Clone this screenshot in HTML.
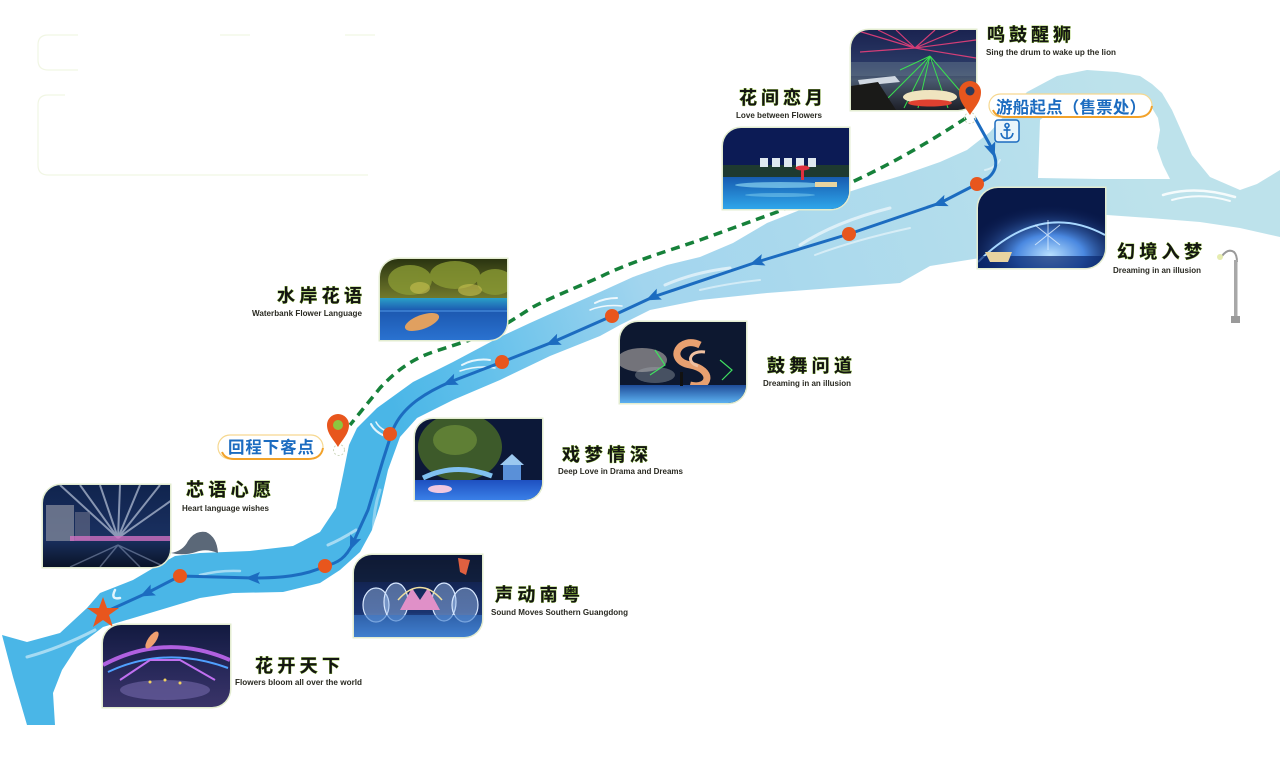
<!DOCTYPE html>
<html><head><meta charset="utf-8"><style>
html,body{margin:0;padding:0;background:#fff;}
svg{display:block;}
.tt{font-family:"Liberation Sans","Noto Sans CJK SC",sans-serif;font-weight:bold;font-size:18px;fill:#141414;stroke:#8fc23a;stroke-width:0.7;paint-order:stroke;}
.st{font-family:"Liberation Sans","Noto Sans CJK SC",sans-serif;font-weight:bold;font-size:8.5px;fill:#2a2a22;}
.pl{font-family:"Liberation Sans","Noto Sans CJK SC",sans-serif;font-weight:bold;font-size:16.5px;fill:#1c6cc0;}
.pb{fill:none;stroke:#e3ecd0;stroke-width:3;}
</style></head><body>
<svg width="1280" height="763" viewBox="0 0 1280 763" xmlns="http://www.w3.org/2000/svg">
<defs>
<linearGradient id="rv" gradientUnits="userSpaceOnUse" x1="400" y1="430" x2="1150" y2="180">
<stop offset="0" stop-color="#4ab6e7"/><stop offset="0.12" stop-color="#62c0eb"/><stop offset="0.35" stop-color="#a2d5ee"/><stop offset="1" stop-color="#bde2eb"/>
</linearGradient>
<linearGradient id="p1" x1="0" y1="0" x2="0" y2="1"><stop offset="0" stop-color="#1a2350"/><stop offset="0.45" stop-color="#2b3a66"/><stop offset="0.62" stop-color="#4a5a70"/><stop offset="1" stop-color="#1e2028"/></linearGradient>
<linearGradient id="w2" x1="0" y1="0" x2="0" y2="1"><stop offset="0" stop-color="#175cb0"/><stop offset="1" stop-color="#2fa6ea"/></linearGradient>
<radialGradient id="gl3" cx="0.5" cy="0.6" r="0.5"><stop offset="0" stop-color="#b8e0ff"/><stop offset="0.4" stop-color="#4a88e0"/><stop offset="1" stop-color="#0a1a50" stop-opacity="0"/></radialGradient>
<linearGradient id="t4" x1="0" y1="0" x2="0" y2="1"><stop offset="0" stop-color="#2a3410"/><stop offset="1" stop-color="#7c8430"/></linearGradient>
<linearGradient id="w4" x1="0" y1="0" x2="0" y2="1"><stop offset="0" stop-color="#2aa0c8"/><stop offset="0.3" stop-color="#1c58b0"/><stop offset="1" stop-color="#2a72d0"/></linearGradient>
<linearGradient id="w5" x1="0" y1="0" x2="0" y2="1"><stop offset="0" stop-color="#1f4c98"/><stop offset="1" stop-color="#5cb0f0"/></linearGradient>
<linearGradient id="w6" x1="0" y1="0" x2="0" y2="1"><stop offset="0" stop-color="#1e50c0"/><stop offset="1" stop-color="#3a80e8"/></linearGradient>
<linearGradient id="p7" x1="0" y1="0" x2="0" y2="1"><stop offset="0" stop-color="#10244e"/><stop offset="0.65" stop-color="#1a3060"/><stop offset="1" stop-color="#0a1428"/></linearGradient>
<linearGradient id="p8" x1="0" y1="0" x2="0" y2="1"><stop offset="0" stop-color="#0c1638"/><stop offset="0.7" stop-color="#1a3470"/><stop offset="1" stop-color="#4a8ad8"/></linearGradient>
<linearGradient id="p9" x1="0" y1="0" x2="0" y2="1"><stop offset="0" stop-color="#121a40"/><stop offset="0.6" stop-color="#2a2a5c"/><stop offset="1" stop-color="#3a3468"/></linearGradient>
<clipPath id="c1"><path d="M869,30 H976 V92 A18,18 0 0 1 958,110 H851 V48 A18,18 0 0 1 869,30 Z"/></clipPath>
<clipPath id="c2"><path d="M741,128 H849 V191 A18,18 0 0 1 831,209 H723 V146 A18,18 0 0 1 741,128 Z"/></clipPath>
<clipPath id="c3"><path d="M998,188 H1105 V248 A20,20 0 0 1 1085,268 H978 V208 A20,20 0 0 1 998,188 Z"/></clipPath>
<clipPath id="c4"><path d="M398,259 H507 V322 A18,18 0 0 1 489,340 H380 V277 A18,18 0 0 1 398,259 Z"/></clipPath>
<clipPath id="c5"><path d="M638,322 H746 V385 A18,18 0 0 1 728,403 H620 V340 A18,18 0 0 1 638,322 Z"/></clipPath>
<clipPath id="c6"><path d="M433,419 H542 V482 A18,18 0 0 1 524,500 H415 V437 A18,18 0 0 1 433,419 Z"/></clipPath>
<clipPath id="c7"><path d="M61,485 H170 V549 A18,18 0 0 1 152,567 H43 V503 A18,18 0 0 1 61,485 Z"/></clipPath>
<clipPath id="c8"><path d="M372,555 H482 V619 A18,18 0 0 1 464,637 H354 V573 A18,18 0 0 1 372,555 Z"/></clipPath>
<clipPath id="c9"><path d="M121,625 H230 V689 A18,18 0 0 1 212,707 H103 V643 A18,18 0 0 1 121,625 Z"/></clipPath>
</defs>

<!-- faint boxes top-left -->
<g fill="none" stroke="#f1f6e4" stroke-width="1.2">
<path d="M78,35 H48 Q38,35 38,45 V60 Q38,70 48,70 H78"/>
<path d="M220,35 H250"/><path d="M345,35 H375"/>
<path d="M65,95 H48 Q38,95 38,105 V165 Q38,175 48,175 H368"/>
</g>

<!-- river -->
<path fill="url(#rv)" d="M2,635 L27,642 L60,633 L87,608 L100,593 L133,580 L150,570 L175,556 L200,553 L250,551 L293,546 L320,532 L336,508 L343,475 L349,445 L357,428 L377,408 L413,382 L453,362 L500,337 L530,323 L550,314 L575,303 L600,292 L633,277 L667,265 L700,257 L733,243 L767,223 L800,210 L833,197 L867,186 L900,176 L940,162 L967,150 L990,132 L1005,115 L1027,92 L1057,76 L1087,70 L1117,72 L1140,76 L1152,84 L1162,93 L1172,110 L1180,128 L1192,155 L1210,177 L1240,190 L1257,184 L1280,170 L1280,237 L1240,228 L1200,222 L1150,218 L1107,215 L1080,217 L1040,232 L1000,252 L980,258 L930,266 L900,283 L833,288 L767,293 L700,300 L650,310 L620,325 L600,336 L550,356 L500,380 L453,400 L417,418 L400,437 L388,470 L380,505 L372,530 L360,552 L340,570 L320,583 L283,592 L233,593 L200,598 L150,613 L103,627 L77,647 L62,670 L53,693 L55,725 L27,725 L13,677 Z"/>
<!-- island -->
<path fill="#fff" d="M1040,120 L1050,112 L1152,108 L1158,118 L1160,130 L1157,148 L1163,165 L1170,179 L1100,179 L1038,178 Z"/>

<!-- white waves -->
<g fill="none" stroke="#fff" stroke-linecap="round" opacity="0.85">
<path d="M1163,195 Q1195,185 1235,197" stroke-width="2.5"/>
<path d="M1172,200 Q1200,192 1230,201" stroke-width="2"/>
<path d="M800,245 Q835,222 890,208" stroke-width="3" opacity="0.7"/>
<path d="M815,255 Q855,240 910,228" stroke-width="2" opacity="0.6"/>
<path d="M665,285 Q695,272 730,268" stroke-width="3" opacity="0.7"/>
<path d="M700,290 Q730,283 760,280" stroke-width="2" opacity="0.6"/>
<path d="M595,303 Q605,298 617,298" stroke-width="2"/>
<path d="M590,310 Q605,304 622,306" stroke-width="1.5"/>
<path d="M462,365 Q475,358 490,360" stroke-width="2"/>
<path d="M460,371 Q478,365 495,368" stroke-width="1.5"/>
<path d="M371,424 Q375,432 385,436" stroke-width="2"/>
<path d="M376,422 Q380,430 392,433" stroke-width="1.5"/>
<path d="M328,545 Q340,540 356,530" stroke-width="3" opacity="0.6"/>
<path d="M200,575 Q220,570 240,571" stroke-width="2.5" opacity="0.6"/>
<path d="M27,657 Q60,648 95,630" stroke-width="3" opacity="0.6"/>
<path d="M115,590 Q110,600 120,598" stroke-width="2.5"/>
<path d="M985,170 Q995,168 1000,160" stroke-width="2" opacity="0.6"/>
<path d="M375,555 Q370,520 380,490" stroke-width="3" opacity="0.45"/>
</g>

<!-- green dashed return line -->
<path d="M966,118 C940,135 900,160 850,183 L777,212 L733,228 L700,240 C665,252 630,262 600,277 C575,288 550,298 533,307 C515,318 500,330 470,340 L433,352 C410,360 395,372 380,388 L350,425" fill="none" stroke="#16813a" stroke-width="3.5" stroke-dasharray="9 6"/>

<!-- route line -->
<path d="M975,118 L990,145 C996,157 1000,168 988,178 L977,184 L940,203 L849,234 L757,262 L653,297 L612,316 L553,342 L502,362 L450,382 C420,395 400,410 392,432 L383,460 L368,510 L353,543 C346,558 338,563 325,566 C305,576 280,578 253,578 L180,576 L147,593 L103,613" fill="none" stroke="#1c6cc0" stroke-width="3" stroke-linejoin="round"/>
<g fill="#1c6cc0">
<path d="M8,0 L-7,-6 L-4,0 L-7,6 Z" transform="translate(992,150) rotate(70)"/>
<path d="M8,0 L-7,-6 L-4,0 L-7,6 Z" transform="translate(940,203) rotate(159)"/>
<path d="M8,0 L-7,-6 L-4,0 L-7,6 Z" transform="translate(757,262) rotate(162)"/>
<path d="M8,0 L-7,-6 L-4,0 L-7,6 Z" transform="translate(653,297) rotate(155)"/>
<path d="M8,0 L-7,-6 L-4,0 L-7,6 Z" transform="translate(553,342) rotate(157)"/>
<path d="M8,0 L-7,-6 L-4,0 L-7,6 Z" transform="translate(450,382) rotate(157)"/>
<path d="M8,0 L-7,-6 L-4,0 L-7,6 Z" transform="translate(353,543) rotate(113)"/>
<path d="M8,0 L-7,-6 L-4,0 L-7,6 Z" transform="translate(253,578) rotate(180)"/>
<path d="M8,0 L-7,-6 L-4,0 L-7,6 Z" transform="translate(147,593) rotate(154)"/>
</g>
<g fill="#e8561d">
<circle cx="977" cy="184" r="7"/><circle cx="849" cy="234" r="7"/><circle cx="612" cy="316" r="7"/>
<circle cx="502" cy="362" r="7"/><circle cx="390" cy="434" r="7"/><circle cx="325" cy="566" r="7"/><circle cx="180" cy="576" r="7"/>
<polygon points="103,597 107,608 119,608 109,615 113,627 103,620 93,627 97,615 87,608 99,608"/>
</g>

<!-- gray fin -->
<path d="M171,553 Q183,551 188,541 Q195,530 206,532 Q217,537 218,553 Q206,548 196,552 Q184,556 171,553 Z" fill="#5b6878"/>

<!-- street lamp -->
<g>
<path d="M1222,256 Q1228,248 1234,252 Q1237,255 1237,262" fill="none" stroke="#9a9a9a" stroke-width="2"/>
<circle cx="1220" cy="257" r="3" fill="#e6ecb0"/>
<rect x="1234" y="260" width="3.5" height="58" fill="#a8a8a8"/>
<rect x="1231" y="316" width="9" height="7" fill="#9a9a9a"/>
</g>

<!-- photo borders -->
<g class="pb">
<path d="M869,30 H976 V92 A18,18 0 0 1 958,110 H851 V48 A18,18 0 0 1 869,30 Z"/>
<path d="M741,128 H849 V191 A18,18 0 0 1 831,209 H723 V146 A18,18 0 0 1 741,128 Z"/>
<path d="M998,188 H1105 V248 A20,20 0 0 1 1085,268 H978 V208 A20,20 0 0 1 998,188 Z"/>
<path d="M398,259 H507 V322 A18,18 0 0 1 489,340 H380 V277 A18,18 0 0 1 398,259 Z"/>
<path d="M638,322 H746 V385 A18,18 0 0 1 728,403 H620 V340 A18,18 0 0 1 638,322 Z"/>
<path d="M433,419 H542 V482 A18,18 0 0 1 524,500 H415 V437 A18,18 0 0 1 433,419 Z"/>
<path d="M61,485 H170 V549 A18,18 0 0 1 152,567 H43 V503 A18,18 0 0 1 61,485 Z"/>
<path d="M372,555 H482 V619 A18,18 0 0 1 464,637 H354 V573 A18,18 0 0 1 372,555 Z"/>
<path d="M121,625 H230 V689 A18,18 0 0 1 212,707 H103 V643 A18,18 0 0 1 121,625 Z"/>
</g>

<!-- Photo 1 鸣鼓醒狮 -->
<g clip-path="url(#c1)">
<rect x="851" y="30" width="125" height="80" fill="url(#p1)"/>
<g stroke="#e8407a" stroke-width="1.2" opacity="0.9">
<line x1="915" y1="48" x2="855" y2="30"/><line x1="915" y1="48" x2="878" y2="30"/><line x1="915" y1="48" x2="896" y2="30"/>
<line x1="915" y1="48" x2="935" y2="30"/><line x1="915" y1="48" x2="958" y2="30"/><line x1="915" y1="48" x2="976" y2="40"/><line x1="915" y1="48" x2="976" y2="58"/>
<line x1="915" y1="48" x2="860" y2="52"/>
</g>
<rect x="851" y="62" width="125" height="14" fill="#5a6c84" opacity="0.6"/>
<polygon points="858,80 895,76 900,82 860,86" fill="#d0d8e2"/>
<g stroke="#3adf50" stroke-width="1">
<line x1="930" y1="56" x2="884" y2="102"/><line x1="930" y1="56" x2="904" y2="108"/><line x1="930" y1="56" x2="918" y2="108"/>
<line x1="930" y1="56" x2="948" y2="108"/><line x1="930" y1="56" x2="966" y2="98"/><line x1="930" y1="56" x2="900" y2="70"/>
</g>
<ellipse cx="930" cy="97" rx="27" ry="7" fill="#efe4bf"/>
<ellipse cx="930" cy="103" rx="22" ry="3.5" fill="#e04030"/>
<polygon points="851,86 878,82 896,110 851,110" fill="#1a1a18"/>
</g>

<!-- Photo 2 花间恋月 -->
<g clip-path="url(#c2)">
<rect x="723" y="128" width="126" height="81" fill="#0c1b55"/>
<rect x="723" y="165" width="126" height="14" fill="#1e3a30"/>
<g fill="#dfe8f0"><rect x="760" y="158" width="8" height="9"/><rect x="772" y="158" width="8" height="9"/><rect x="784" y="158" width="8" height="9"/><rect x="796" y="158" width="8" height="9"/><rect x="808" y="158" width="8" height="9"/></g>
<rect x="723" y="177" width="126" height="32" fill="url(#w2)"/>
<ellipse cx="780" cy="185" rx="45" ry="3" fill="#9be4f8" opacity="0.6"/>
<ellipse cx="780" cy="195" rx="35" ry="2" fill="#9be4f8" opacity="0.4"/>
<rect x="801" y="168" width="3" height="12" fill="#e03040"/><ellipse cx="802.5" cy="168" rx="7" ry="2.5" fill="#e03040"/>
<rect x="815" y="182" width="22" height="5" fill="#e8d4a0"/>
</g>

<!-- Photo 3 幻境入梦 -->
<g clip-path="url(#c3)">
<rect x="978" y="188" width="127" height="80" fill="#081848"/>
<ellipse cx="1050" cy="245" rx="85" ry="50" fill="url(#gl3)"/>
<path d="M978,262 Q1040,200 1105,235" fill="none" stroke="#a8d8ff" stroke-width="2"/>
<g stroke="#e0f0ff" stroke-width="1" opacity="0.8"><line x1="1035" y1="225" x2="1060" y2="245"/><line x1="1060" y1="225" x2="1035" y2="245"/><line x1="1048" y1="220" x2="1048" y2="250"/></g>
<rect x="978" y="256" width="127" height="12" fill="#0a2a70" opacity="0.7"/>
<polygon points="985,252 1012,252 1008,262 990,262" fill="#e8d4a0"/>
</g>

<!-- Photo 4 水岸花语 -->
<g clip-path="url(#c4)">
<rect x="380" y="259" width="127" height="45" fill="url(#t4)"/>
<g fill="#8a9a34" opacity="0.8"><ellipse cx="410" cy="280" rx="22" ry="15"/><ellipse cx="455" cy="275" rx="25" ry="14"/><ellipse cx="495" cy="282" rx="18" ry="13"/></g>
<g fill="#c8c050" opacity="0.6"><ellipse cx="420" cy="288" rx="10" ry="6"/><ellipse cx="470" cy="290" rx="12" ry="6"/></g>
<rect x="380" y="298" width="127" height="42" fill="url(#w4)"/>
<ellipse cx="422" cy="322" rx="18" ry="7" fill="#e0a060" transform="rotate(-20 422 322)"/>
<rect x="380" y="310" width="127" height="2" fill="#4a90e0" opacity="0.6"/>
</g>

<!-- Photo 5 鼓舞问道 -->
<g clip-path="url(#c5)">
<rect x="620" y="322" width="126" height="81" fill="#0d1830"/>
<ellipse cx="642" cy="360" rx="25" ry="12" fill="#c8c0b8" opacity="0.55"/>
<ellipse cx="655" cy="375" rx="20" ry="8" fill="#a0a8b0" opacity="0.4"/>
<path d="M700,345 C680,335 665,360 690,365 C715,370 710,390 690,385" fill="none" stroke="#e8a070" stroke-width="7"/>
<path d="M705,352 C690,350 685,362 698,366" fill="none" stroke="#f0c0a0" stroke-width="3"/>
<g fill="none" stroke="#40e060" stroke-width="1.2"><path d="M655,350 L665,365 L650,375"/><path d="M720,360 L732,370 L722,380"/></g>
<rect x="620" y="385" width="126" height="18" fill="url(#w5)"/>
<rect x="680" y="372" width="3" height="14" fill="#111"/>
</g>

<!-- Photo 6 戏梦情深 -->
<g clip-path="url(#c6)">
<rect x="415" y="419" width="127" height="81" fill="#0c1838"/>
<ellipse cx="460" cy="447" rx="42" ry="34" fill="#3d5a2a"/>
<ellipse cx="455" cy="440" rx="22" ry="15" fill="#6e8e3a" opacity="0.7"/>
<polygon points="500,465 512,454 524,465" fill="#9cc8f0"/>
<rect x="503" y="465" width="18" height="15" fill="#5a90d8"/>
<path d="M423,478 Q455,462 492,476" fill="none" stroke="#80c0f0" stroke-width="5"/>
<rect x="415" y="480" width="127" height="20" fill="url(#w6)"/>
<ellipse cx="440" cy="489" rx="12" ry="4" fill="#f0c8e0"/>
</g>

<!-- Photo 7 芯语心愿 -->
<g clip-path="url(#c7)">
<rect x="43" y="485" width="127" height="82" fill="url(#p7)"/>
<g stroke="#e8f0ff" stroke-width="2" opacity="0.55">
<line x1="118" y1="538" x2="60" y2="485"/><line x1="118" y1="538" x2="80" y2="485"/><line x1="118" y1="538" x2="100" y2="485"/>
<line x1="118" y1="538" x2="120" y2="485"/><line x1="118" y1="538" x2="140" y2="485"/><line x1="118" y1="538" x2="160" y2="485"/><line x1="118" y1="538" x2="172" y2="500"/>
</g>
<rect x="46" y="505" width="28" height="36" fill="#8a90a0" opacity="0.7"/>
<rect x="75" y="512" width="15" height="28" fill="#6a7088" opacity="0.6"/>
<rect x="70" y="536" width="100" height="5" fill="#d070c0" opacity="0.8"/>
<g stroke="#b8c8e8" stroke-width="1.5" opacity="0.4"><line x1="118" y1="545" x2="70" y2="567"/><line x1="118" y1="545" x2="100" y2="567"/><line x1="118" y1="545" x2="140" y2="567"/><line x1="118" y1="545" x2="165" y2="567"/></g>
</g>

<!-- Photo 8 声动南粤 -->
<g clip-path="url(#c8)">
<rect x="354" y="555" width="128" height="82" fill="url(#p8)"/>
<rect x="354" y="560" width="128" height="22" fill="#101c30" opacity="0.6"/>
<g fill="#a0c0f0" fill-opacity="0.45" stroke="#d8e8ff" stroke-width="1.2">
<ellipse cx="376" cy="605" rx="13" ry="17"/><ellipse cx="396" cy="602" rx="12" ry="19"/><ellipse cx="444" cy="602" rx="12" ry="19"/><ellipse cx="465" cy="605" rx="13" ry="17"/>
</g>
<path d="M400,610 L412,588 L420,600 L428,588 L440,610 Z" fill="#e090c8"/>
<path d="M398,600 Q420,575 442,600" fill="none" stroke="#f0e0a0" stroke-width="1.5"/>
<path d="M458,558 L470,560 L466,575 L460,572 Z" fill="#e06040"/>
<rect x="354" y="615" width="128" height="22" fill="#3a78c8" opacity="0.6"/>
</g>

<!-- Photo 9 花开天下 -->
<g clip-path="url(#c9)">
<rect x="103" y="625" width="127" height="82" fill="url(#p9)"/>
<path d="M103,665 Q165,632 230,660" fill="none" stroke="#b060e0" stroke-width="4"/>
<path d="M108,672 Q165,645 228,668" fill="none" stroke="#50a0ff" stroke-width="2"/>
<path d="M120,680 L150,660 L180,660 L215,680" fill="none" stroke="#c070f0" stroke-width="2"/>
<ellipse cx="152" cy="640" rx="4" ry="10" fill="#f0a070" transform="rotate(35 152 640)"/>
<ellipse cx="165" cy="690" rx="45" ry="10" fill="#6a60a0" opacity="0.7"/>
<g fill="#f0d060"><circle cx="150" cy="682" r="1.5"/><circle cx="165" cy="680" r="1.5"/><circle cx="180" cy="683" r="1.5"/></g>
</g>

<!-- pins -->
<circle cx="970" cy="118" r="5.5" fill="none" stroke="#ccd6bc" stroke-width="1" stroke-dasharray="2 2"/>
<path d="M970,115 C966,108 959,102 959,92 A11,11 0 1 1 981,92 C981,102 974,108 970,115 Z" fill="#e8561d"/>
<circle cx="970" cy="91" r="4.5" fill="#2b3a5a"/>
<circle cx="339" cy="450" r="5.5" fill="none" stroke="#ccd6bc" stroke-width="1" stroke-dasharray="2 2"/>
<path d="M338,447 C334,440 327,434 327,425 A11,11 0 1 1 349,425 C349,434 342,440 338,447 Z" fill="#e8561d"/>
<circle cx="338" cy="425" r="5" fill="#8dc63f"/>

<!-- pill labels -->
<rect x="989" y="94" width="163" height="23" rx="11.5" fill="#fff" stroke="#f6d890" stroke-width="1.2"/>
<path d="M993,110 Q996,117 1005,117 L1138,117 Q1150,117 1152,106" fill="none" stroke="#f2a22a" stroke-width="2"/>
<text class="pl" x="996" y="113" textLength="150">游船起点（售票处）</text>
<rect x="218" y="435" width="105" height="24" rx="12" fill="#fff" stroke="#f6d890" stroke-width="1.2"/>
<path d="M222,452 Q225,459 234,459 L308,459 Q321,459 323,448" fill="none" stroke="#f2a22a" stroke-width="2"/>
<text class="pl" x="228" y="453" textLength="86">回程下客点</text>

<!-- anchor -->
<rect x="995" y="120" width="24" height="22" rx="3" fill="#eaf5fb" stroke="#1c6cc0" stroke-width="1.5"/>
<g fill="none" stroke="#1c6cc0" stroke-width="1.6">
<circle cx="1007" cy="125.5" r="2"/><line x1="1007" y1="127.5" x2="1007" y2="138"/><line x1="1003.5" y1="130" x2="1010.5" y2="130"/>
<path d="M1001,133 Q1002,138.5 1007,138.5 Q1012,138.5 1013,133"/>
</g>

<!-- titles -->
<text class="tt" x="987" y="41" textLength="84">鸣鼓醒狮</text>
<text class="st" x="986" y="55" textLength="130" lengthAdjust="spacingAndGlyphs">Sing the drum to wake up the lion</text>
<text class="tt" x="739" y="104" textLength="84">花间恋月</text>
<text class="st" x="736" y="118" textLength="86" lengthAdjust="spacingAndGlyphs">Love between Flowers</text>
<text class="tt" x="1117" y="258" textLength="85">幻境入梦</text>
<text class="st" x="1113" y="273" textLength="88" lengthAdjust="spacingAndGlyphs">Dreaming in an illusion</text>
<text class="tt" x="277" y="302" textLength="85">水岸花语</text>
<text class="st" x="252" y="316" textLength="110" lengthAdjust="spacingAndGlyphs">Waterbank Flower Language</text>
<text class="tt" x="767" y="372" textLength="85">鼓舞问道</text>
<text class="st" x="763" y="386" textLength="88" lengthAdjust="spacingAndGlyphs">Dreaming in an illusion</text>
<text class="tt" x="562" y="461" textLength="86">戏梦情深</text>
<text class="st" x="558" y="474" textLength="125" lengthAdjust="spacingAndGlyphs">Deep Love in Drama and Dreams</text>
<text class="tt" x="186" y="496" textLength="85">芯语心愿</text>
<text class="st" x="182" y="511" textLength="87" lengthAdjust="spacingAndGlyphs">Heart language wishes</text>
<text class="tt" x="495" y="601" textLength="85">声动南粤</text>
<text class="st" x="491" y="615" textLength="137" lengthAdjust="spacingAndGlyphs">Sound Moves Southern Guangdong</text>
<text class="tt" x="255" y="672" textLength="85">花开天下</text>
<text class="st" x="235" y="685" textLength="127" lengthAdjust="spacingAndGlyphs">Flowers bloom all over the world</text>
</svg>
</body></html>
